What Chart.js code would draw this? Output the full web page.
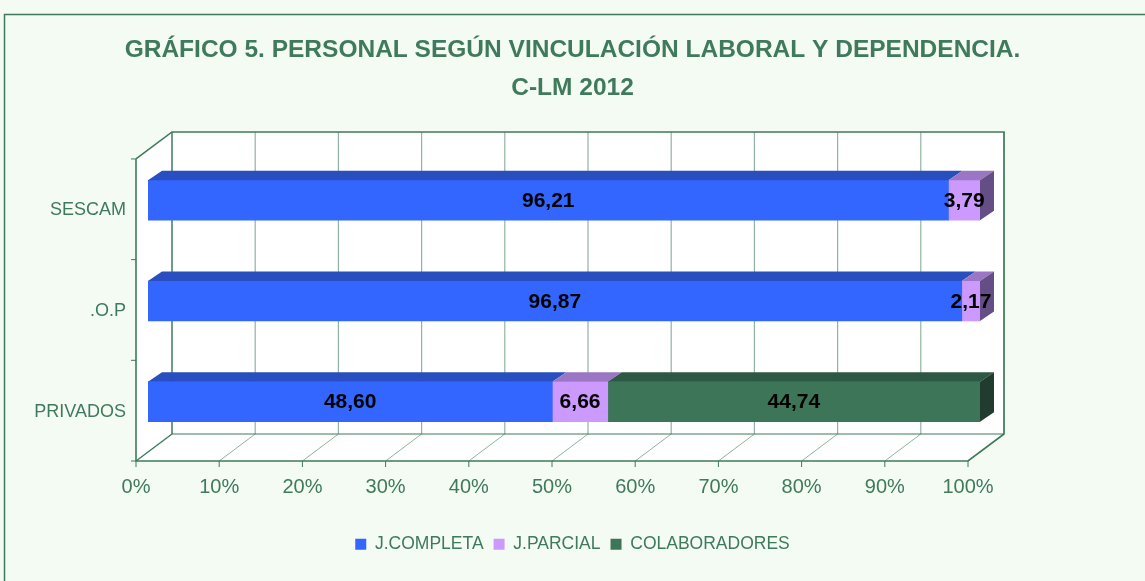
<!DOCTYPE html>
<html>
<head>
<meta charset="utf-8">
<script src="https://cdn.jsdelivr.net/npm/chart.js@4"></script>
<style>
  body { margin: 0; background: #F3FBF3; }
  #wrap { width: 1145px; height: 581px; }
</style>
</head>
<body>
<div id="wrap"><canvas id="grafico"></canvas></div>
<script>
const categorias = ['SESCAM', '.O.P', 'PRIVADOS'];
const jCompleta = [96.21, 96.87, 48.60];
const jParcial = [3.79, 2.17, 6.66];
const colaboradores = [0, 0, 44.74];
const xTicks = [0, 10, 20, 30, 40, 50, 60, 70, 80, 90, 100];

const verde = '#3F7A5C';
const rejilla = '#8FB3A1';
Chart.defaults.font.family = "'Liberation Sans', Arial, sans-serif";

// excel normaliza cada fila al 100%
const totales = categorias.map((c, i) => jCompleta[i] + jParcial[i] + colaboradores[i]);
const pct = arr => arr.map((v, i) => v / totales[i] * 100);

const series = [
  { label: 'J.COMPLETA', raw: jCompleta, front: '#3366FF', top: '#284EC0', side: '#1F3C99' },
  { label: 'J.PARCIAL', raw: jParcial, front: '#CC99FF', top: '#9B76C4', side: '#654E85' },
  { label: 'COLABORADORES', raw: colaboradores, front: '#3D7558', top: '#2D5843', side: '#213B2E' }
];

// desplazamientos del "3D"
const FR = { dx: -12, dy: 9 };
const BK = { dx: 24, dy: -18 };
const PROF = { dx: 14, dy: -9.5 };

function linea(ctx, pts, color, w) {
  ctx.beginPath();
  ctx.moveTo(pts[0][0], pts[0][1]);
  for (let i = 1; i < pts.length; i++) ctx.lineTo(pts[i][0], pts[i][1]);
  ctx.strokeStyle = color;
  ctx.lineWidth = w;
  ctx.stroke();
}
function poly(ctx, pts, color) {
  ctx.beginPath();
  ctx.moveTo(pts[0][0], pts[0][1]);
  for (let i = 1; i < pts.length; i++) ctx.lineTo(pts[i][0], pts[i][1]);
  ctx.closePath();
  ctx.fillStyle = color;
  ctx.fill();
}

const fondo = {
  id: 'fondo',
  beforeDraw(chart) {
    const ctx = chart.ctx;
    ctx.save();
    ctx.fillStyle = '#F3FBF3';
    ctx.fillRect(0, 0, chart.width, chart.height);
    linea(ctx, [[4.5, chart.height + 2], [4.5, 14.5], [chart.width + 2, 14.5]], verde, 1.5);
    ctx.restore();
  },
  beforeDatasetsDraw(chart) {
    const ctx = chart.ctx;
    const ca = chart.chartArea;
    const xs = chart.scales.x;
    const p0 = xs.getPixelForValue(0), p100 = xs.getPixelForValue(100);
    const T = ca.top, B = ca.bottom;
    ctx.save();
    // paredes
    poly(ctx, [[p0 + BK.dx, T + BK.dy], [p100 + BK.dx, T + BK.dy], [p100 + BK.dx, B + BK.dy], [p0 + BK.dx, B + BK.dy]], '#FFFFFF');
    poly(ctx, [[p0 + FR.dx, T + FR.dy], [p0 + BK.dx, T + BK.dy], [p0 + BK.dx, B + BK.dy], [p0 + FR.dx, B + FR.dy]], '#FFFFFF');
    poly(ctx, [[p0 + FR.dx, B + FR.dy], [p100 + FR.dx, B + FR.dy], [p100 + BK.dx, B + BK.dy], [p0 + BK.dx, B + BK.dy]], '#FFFFFF');
    // rejilla
    xTicks.forEach(v => {
      const p = xs.getPixelForValue(v);
      linea(ctx, [[p + BK.dx, T + BK.dy], [p + BK.dx, B + BK.dy]], rejilla, 1.2);
      linea(ctx, [[p + FR.dx, B + FR.dy], [p + BK.dx, B + BK.dy]], rejilla, 1);
      linea(ctx, [[p + FR.dx, B + FR.dy], [p + FR.dx, B + FR.dy + 6]], verde, 1);
    });
    // bordes
    linea(ctx, [[p0 + FR.dx, T + FR.dy], [p0 + BK.dx, T + BK.dy], [p100 + BK.dx, T + BK.dy], [p100 + BK.dx, B + BK.dy], [p100 + FR.dx, B + FR.dy], [p0 + FR.dx, B + FR.dy], [p0 + FR.dx, T + FR.dy]], verde, 1.6);
    linea(ctx, [[p0 + BK.dx, T + BK.dy], [p0 + BK.dx, B + BK.dy], [p100 + BK.dx, B + BK.dy]], verde, 1.2);
    linea(ctx, [[p0 + FR.dx, B + FR.dy], [p0 + BK.dx, B + BK.dy]], verde, 1.2);
    // marcas eje categorias
    const paso = (B - T) / categorias.length;
    for (let i = 0; i <= categorias.length; i++) {
      const y = T + i * paso + FR.dy;
      linea(ctx, [[p0 + FR.dx - 5, y], [p0 + FR.dx, y]], verde, 1);
    }
    ctx.restore();
  },
  afterDatasetsDraw(chart) {
    const ctx = chart.ctx;
    ctx.save();
    categorias.forEach((c, j) => {
      let ultimo = -1;
      series.forEach((s, i) => { if (s.raw[j] > 0) ultimo = i; });
      series.forEach((s, i) => {
        if (!(s.raw[j] > 0)) return;
        const el = chart.getDatasetMeta(i).data[j];
        const { x, y, base, height } = el.getProps(['x', 'y', 'base', 'height'], true);
        const x0 = Math.min(x, base), x1 = Math.max(x, base);
        const y0 = y - height / 2, y1 = y + height / 2;
        poly(ctx, [[x0, y0], [x1, y0], [x1 + PROF.dx, y0 + PROF.dy], [x0 + PROF.dx, y0 + PROF.dy]], s.top);
        if (i === ultimo) {
          poly(ctx, [[x1, y0], [x1 + PROF.dx, y0 + PROF.dy], [x1 + PROF.dx, y1 + PROF.dy], [x1, y1]], s.side);
        }
        ctx.fillStyle = '#000000';
        ctx.font = "bold 21px 'Liberation Sans', Arial, sans-serif";
        ctx.textAlign = 'center';
        ctx.textBaseline = 'middle';
        ctx.fillText(s.raw[j].toFixed(2).replace('.', ','), (x0 + x1) / 2, y + 1);
      });
    });
    ctx.restore();
  }
};

new Chart(document.getElementById('grafico'), {
  type: 'bar',
  data: {
    labels: categorias,
    datasets: series.map(s => ({
      label: s.label,
      data: pct(s.raw),
      backgroundColor: s.front,
      borderWidth: 0,
      barThickness: 40
    }))
  },
  options: {
    indexAxis: 'y',
    responsive: true,
    maintainAspectRatio: false,
    animation: false,
    layout: { padding: { left: 0, right: 0, top: 0, bottom: 18 } },
    plugins: {
      title: {
        display: true,
        text: ['GRÁFICO 5. PERSONAL SEGÚN VINCULACIÓN LABORAL Y DEPENDENCIA.', 'C-LM 2012'],
        color: verde,
        font: { size: 24.5, weight: 'bold', lineHeight: 1.55 },
        padding: { top: 31, bottom: 43 }
      },
      legend: {
        position: 'bottom',
        labels: { boxWidth: 11, boxHeight: 11, color: verde, font: { size: 17.5 }, padding: 10 }
      },
      tooltip: { enabled: false }
    },
    scales: {
      x: {
        stacked: true,
        min: 0,
        max: 100,
        grid: { display: false, drawTicks: false },
        border: { display: false },
        ticks: {
          stepSize: 10,
          maxRotation: 0,
          autoSkip: false,
          color: verde,
          font: { size: 20 },
          labelOffset: -12,
          padding: 23,
          callback: v => v + '%'
        },
        afterFit: s => { s.height = 73.5; }
      },
      y: {
        stacked: true,
        grid: { display: false, drawTicks: false },
        border: { display: false },
        ticks: { color: verde, font: { size: 18 }, labelOffset: 10, padding: 22 },
        afterFit: s => { s.width = 148; }
      },
      y2: {
        position: 'right',
        type: 'category',
        labels: categorias,
        grid: { display: false, drawTicks: false },
        border: { display: false },
        ticks: { display: false },
        afterFit: s => { s.width = 165; }
      }
    }
  },
  plugins: [fondo]
});
</script>
</body>
</html>
